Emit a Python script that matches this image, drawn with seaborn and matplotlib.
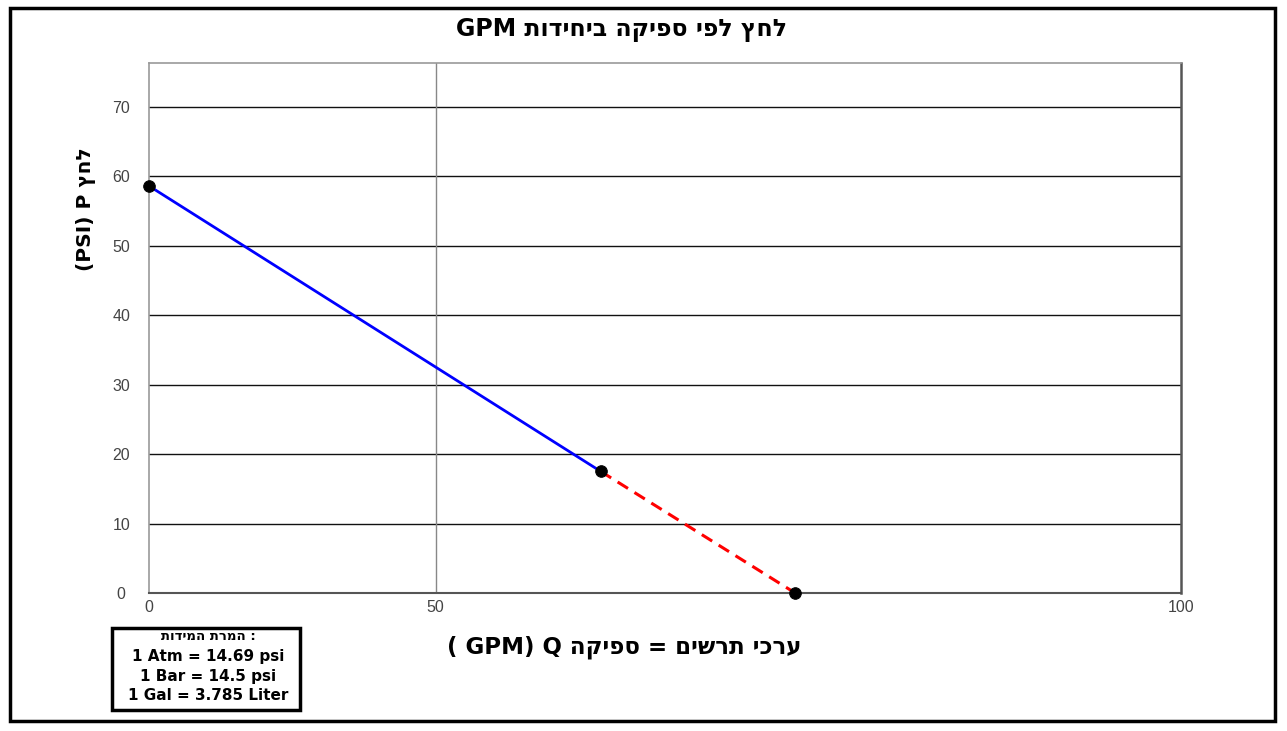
import matplotlib
matplotlib.use("Agg")
import matplotlib.pyplot as plt
import seaborn as sns
import pandas as pd
from matplotlib.patches import Rectangle

# ---- data ----
flow_supply = [0.0, 78.8]          # GPM, solid blue segment
press_supply = [58.6, 17.5]        # PSI
flow_ext = [78.8, 112.7]           # GPM, dashed red extension
press_ext = [17.5, 0.0]
point_flow = [0.0, 78.8, 112.7]
point_press = [58.6, 17.5, 0.0]
x_tick_pos = [0, 50, 180]
x_tick_labels = ["0", "50", "100"]
y_ticks = [0, 10, 20, 30, 40, 50, 60, 70]

title_txt = "GPM " + "לחץ לפי ספיקה ביחידות"[::-1]
ylabel_txt = "(PSI) P " + "לחץ"[::-1]
xlabel_txt = "( GPM) Q " + "ערכי תרשים = ספיקה"[::-1]
box_header = "המרת המידות"[::-1] + " :"
box_lines = ["1 Atm = 14.69 psi", "1 Bar = 14.5 psi", "1 Gal = 3.785 Liter"]

sns.set_style("white")
plt.rcParams['font.family'] = ['Liberation Sans', 'DejaVu Sans']
heavy = ['DejaVu Sans', 'Liberation Sans']

fig = plt.figure(figsize=(12.87, 7.31), dpi=100)
ax = fig.add_axes([149/1287, 1-593/731, (1181-149)/1287, (593-63)/731])

df1 = pd.DataFrame({"x": flow_supply, "y": press_supply})
df2 = pd.DataFrame({"x": flow_ext, "y": press_ext})
df3 = pd.DataFrame({"x": point_flow, "y": point_press})

sns.lineplot(data=df1, x="x", y="y", ax=ax, color="#0000ff", linewidth=2.0, zorder=3)
sns.lineplot(data=df2, x="x", y="y", ax=ax, color="#ff0000", linewidth=2.2,
             linestyle=(0, (4, 2.5)), zorder=3)
sns.scatterplot(data=df3, x="x", y="y", ax=ax, color="black", s=70, edgecolor="black",
                zorder=4, clip_on=False)

ax.set_xlim(0, 180)
ax.set_ylim(0, 76.3)
ax.set_xticks(x_tick_pos)
ax.set_xticklabels(x_tick_labels)
ax.set_yticks(y_ticks)
ax.set_xlabel("")
ax.set_ylabel("")

for v in y_ticks[1:]:
    ax.axhline(v, color="#111111", linewidth=1.0, zorder=1)
ax.axvline(50, color="#888888", linewidth=1.0, zorder=1)

ax.tick_params(axis="y", length=0, pad=20, labelsize=11.5, labelcolor="#444444")
ax.tick_params(axis="x", length=0, pad=5, labelsize=11.5, labelcolor="#444444")
for lab in ax.get_yticklabels():
    lab.set_horizontalalignment("center")

ax.spines["left"].set_color("#999999")
ax.spines["left"].set_linewidth(1.2)
ax.spines["top"].set_color("#999999")
ax.spines["top"].set_linewidth(1.2)
ax.spines["right"].set_color("#555555")
ax.spines["right"].set_linewidth(1.8)
ax.spines["bottom"].set_color("#555555")
ax.spines["bottom"].set_linewidth(1.5)

# titles
fig.text(621/1287, 1-30/731, title_txt, ha="center", va="center",
         fontsize=17, fontweight="bold", color="black", family=heavy)
fig.text(624/1287, 1-647/731, xlabel_txt, ha="center", va="center",
         fontsize=16.5, fontweight="bold", color="black", family=heavy)
fig.text(86/1287, 1-209/731, ylabel_txt, ha="center", va="center", rotation=90,
         fontsize=14.5, fontweight="bold", color="black", family=heavy)

# outer frame
fig.patches.append(Rectangle((10/1287, 1-721/731), (1275-10)/1287, (721-8)/731,
                             transform=fig.transFigure, fill=False,
                             edgecolor="black", linewidth=2.5))
# conversion box
fig.patches.append(Rectangle((112/1287, 1-710/731), (300-112)/1287, (710-628)/731,
                             transform=fig.transFigure, fill=False,
                             edgecolor="black", linewidth=2.5))
fig.text(208/1287, 1-637/731, box_header, ha="center", va="center",
         fontsize=9.5, fontweight="bold", color="black", family=heavy)
for i, line in enumerate(box_lines):
    fig.text(208/1287, 1-(656+20*i)/731, line, ha="center", va="center",
             fontsize=11, fontweight="bold", color="black", family=heavy)

fig.savefig("out.png", dpi=100, facecolor="white")
